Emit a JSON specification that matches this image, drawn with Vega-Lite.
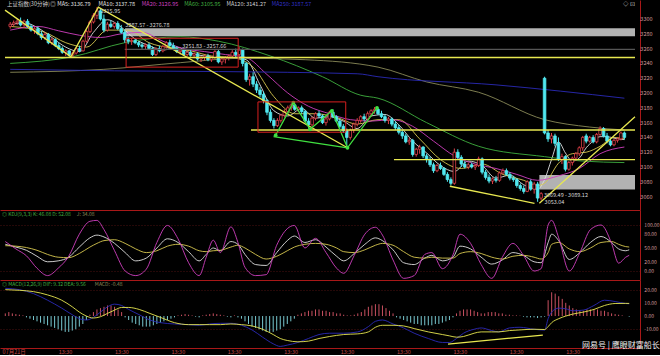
{
"$schema": "https://vega.github.io/schema/vega-lite/v6.json",
"background": "#000000",
"padding": 0,
"spacing": 0,
"bounds": "flush",
"config": {"view": {"stroke": null}, "font": "Noto Sans CJK SC", "axis": {"labelFont": "Noto Sans CJK SC", "labelFontSize": 5.5, "labelColor": "#d09a9a", "domainColor": "#a81818", "gridColor": "#4a1010", "gridDash": [1, 2], "labelFlush": false}},
"datasets": {
"bars": [
{"b":0,"o":3290,"h":3296,"l":3287,"c":3293,"m":2},{"b":1,"o":3293,"h":3298,"l":3290,"c":3295,"m":3},{"b":2,"o":3295,"h":3300,"l":3292,"c":3297,"m":2},{"b":3,"o":3297,"h":3302,"l":3290,"c":3292,"m":1.5},{"b":4,"o":3292,"h":3299,"l":3288,"c":3297,"m":1},{"b":5,"o":3297,"h":3300,"l":3288,"c":3290,"m":0.5},{"b":6,"o":3290,"h":3293,"l":3283,"c":3285,"m":-1},{"b":7,"o":3285,"h":3289,"l":3280,"c":3287,"m":-2},{"b":8,"o":3287,"h":3290,"l":3278,"c":3280,"m":-3},{"b":9,"o":3280,"h":3284,"l":3272,"c":3275,"m":-4},
{"b":10,"o":3275,"h":3282,"l":3272,"c":3279,"m":-5},{"b":11,"o":3279,"h":3281,"l":3266,"c":3268,"m":-6},{"b":12,"o":3268,"h":3275,"l":3265,"c":3272,"m":-7},{"b":13,"o":3272,"h":3274,"l":3262,"c":3264,"m":-8},{"b":14,"o":3264,"h":3268,"l":3258,"c":3260,"m":-9},{"b":15,"o":3260,"h":3263,"l":3253,"c":3255,"m":-10},{"b":16,"o":3255,"h":3259,"l":3250,"c":3257,"m":-11},{"b":17,"o":3257,"h":3258,"l":3249,"c":3251,"m":-12},{"b":18,"o":3251,"h":3256,"l":3248,"c":3254,"m":-12},{"b":19,"o":3254,"h":3262,"l":3252,"c":3260,"m":-11},
{"b":20,"o":3260,"h":3264,"l":3255,"c":3257,"m":-10},{"b":21,"o":3257,"h":3272,"l":3256,"c":3270,"m":-8},{"b":22,"o":3270,"h":3285,"l":3268,"c":3283,"m":-6},{"b":23,"o":3283,"h":3298,"l":3281,"c":3296,"m":-3},{"b":24,"o":3296,"h":3308,"l":3294,"c":3305,"m":1},{"b":25,"o":3305,"h":3316,"l":3300,"c":3311,"m":3},{"b":26,"o":3311,"h":3314,"l":3298,"c":3300,"m":5},{"b":27,"o":3300,"h":3306,"l":3282,"c":3285,"m":6},{"b":28,"o":3285,"h":3296,"l":3283,"c":3293,"m":7},{"b":29,"o":3293,"h":3298,"l":3288,"c":3290,"m":8},
{"b":30,"o":3290,"h":3296,"l":3287,"c":3294,"m":8},{"b":31,"o":3294,"h":3297,"l":3285,"c":3287,"m":7},{"b":32,"o":3287,"h":3292,"l":3280,"c":3282,"m":5},{"b":33,"o":3282,"h":3286,"l":3268,"c":3272,"m":3},{"b":34,"o":3272,"h":3276,"l":3266,"c":3270,"m":-1},{"b":35,"o":3270,"h":3274,"l":3265,"c":3271,"m":-3},{"b":36,"o":3271,"h":3274,"l":3266,"c":3268,"m":-5},{"b":37,"o":3268,"h":3270,"l":3262,"c":3265,"m":-6},{"b":38,"o":3265,"h":3268,"l":3260,"c":3263,"m":-7},{"b":39,"o":3263,"h":3267,"l":3259,"c":3265,"m":-8},
{"b":40,"o":3265,"h":3268,"l":3258,"c":3260,"m":-8},{"b":41,"o":3260,"h":3263,"l":3250,"c":3252,"m":-8},{"b":42,"o":3252,"h":3262,"l":3250,"c":3260,"m":-7},{"b":43,"o":3260,"h":3264,"l":3255,"c":3257,"m":-6},{"b":44,"o":3257,"h":3265,"l":3255,"c":3263,"m":-5},{"b":45,"o":3263,"h":3270,"l":3260,"c":3268,"m":-4},{"b":46,"o":3268,"h":3272,"l":3262,"c":3264,"m":-3},{"b":47,"o":3264,"h":3268,"l":3258,"c":3260,"m":-2},{"b":48,"o":3260,"h":3263,"l":3254,"c":3256,"m":-1},{"b":49,"o":3256,"h":3260,"l":3252,"c":3258,"m":0.5},
{"b":50,"o":3258,"h":3260,"l":3250,"c":3252,"m":1},{"b":51,"o":3252,"h":3257,"l":3249,"c":3255,"m":1.5},{"b":52,"o":3255,"h":3258,"l":3249,"c":3251,"m":1},{"b":53,"o":3251,"h":3255,"l":3247,"c":3253,"m":0.5},{"b":54,"o":3253,"h":3255,"l":3244,"c":3246,"m":-0.5},{"b":55,"o":3246,"h":3250,"l":3242,"c":3248,"m":-1},{"b":56,"o":3248,"h":3252,"l":3244,"c":3250,"m":0.5},{"b":57,"o":3250,"h":3253,"l":3243,"c":3245,"m":1},{"b":58,"o":3245,"h":3250,"l":3242,"c":3248,"m":1.5},{"b":59,"o":3248,"h":3258,"l":3246,"c":3256,"m":2},
{"b":60,"o":3256,"h":3259,"l":3240,"c":3242,"m":1.5},{"b":61,"o":3242,"h":3248,"l":3238,"c":3246,"m":1},{"b":62,"o":3246,"h":3250,"l":3240,"c":3248,"m":0.5},{"b":63,"o":3248,"h":3252,"l":3244,"c":3250,"m":-0.5},{"b":64,"o":3250,"h":3258,"l":3247,"c":3255,"m":-1},{"b":65,"o":3255,"h":3260,"l":3248,"c":3252,"m":0.5},{"b":66,"o":3252,"h":3262,"l":3250,"c":3258,"m":-1},{"b":67,"o":3258,"h":3260,"l":3236,"c":3240,"m":-2},{"b":68,"o":3240,"h":3242,"l":3215,"c":3218,"m":-4},{"b":69,"o":3218,"h":3226,"l":3210,"c":3222,"m":-6},
{"b":70,"o":3222,"h":3228,"l":3208,"c":3212,"m":-8},{"b":71,"o":3212,"h":3216,"l":3200,"c":3204,"m":-9},{"b":72,"o":3204,"h":3208,"l":3194,"c":3198,"m":-10},{"b":73,"o":3198,"h":3202,"l":3186,"c":3190,"m":-11},{"b":74,"o":3190,"h":3192,"l":3170,"c":3174,"m":-12},{"b":75,"o":3174,"h":3178,"l":3160,"c":3163,"m":-12},{"b":76,"o":3163,"h":3166,"l":3152,"c":3156,"m":-12},{"b":77,"o":3156,"h":3166,"l":3154,"c":3163,"m":-11},{"b":78,"o":3163,"h":3172,"l":3160,"c":3170,"m":-10},{"b":79,"o":3170,"h":3178,"l":3167,"c":3175,"m":-8},
{"b":80,"o":3175,"h":3183,"l":3172,"c":3180,"m":-6},{"b":81,"o":3180,"h":3186,"l":3176,"c":3184,"m":-4},{"b":82,"o":3184,"h":3186,"l":3176,"c":3178,"m":-2},{"b":83,"o":3178,"h":3182,"l":3174,"c":3180,"m":1},{"b":84,"o":3180,"h":3183,"l":3172,"c":3175,"m":2},{"b":85,"o":3175,"h":3177,"l":3160,"c":3162,"m":3},{"b":86,"o":3162,"h":3166,"l":3152,"c":3157,"m":4},{"b":87,"o":3157,"h":3168,"l":3155,"c":3166,"m":4},{"b":88,"o":3166,"h":3174,"l":3163,"c":3172,"m":5},{"b":89,"o":3172,"h":3176,"l":3166,"c":3169,"m":5},
{"b":90,"o":3169,"h":3171,"l":3158,"c":3160,"m":4},{"b":91,"o":3160,"h":3168,"l":3156,"c":3165,"m":4},{"b":92,"o":3165,"h":3176,"l":3163,"c":3174,"m":3},{"b":93,"o":3174,"h":3178,"l":3166,"c":3168,"m":3},{"b":94,"o":3168,"h":3170,"l":3160,"c":3162,"m":2},{"b":95,"o":3162,"h":3165,"l":3152,"c":3155,"m":2},{"b":96,"o":3155,"h":3158,"l":3146,"c":3149,"m":1},{"b":97,"o":3149,"h":3152,"l":3126,"c":3140,"m":0.5},{"b":98,"o":3140,"h":3152,"l":3137,"c":3150,"m":0.5},{"b":99,"o":3150,"h":3160,"l":3146,"c":3158,"m":1},
{"b":100,"o":3158,"h":3166,"l":3155,"c":3163,"m":2},{"b":101,"o":3163,"h":3170,"l":3160,"c":3168,"m":3},{"b":102,"o":3168,"h":3172,"l":3162,"c":3165,"m":5},{"b":103,"o":3165,"h":3175,"l":3163,"c":3172,"m":7},{"b":104,"o":3172,"h":3178,"l":3168,"c":3176,"m":8},{"b":105,"o":3176,"h":3181,"l":3172,"c":3178,"m":9},{"b":106,"o":3178,"h":3180,"l":3170,"c":3172,"m":9},{"b":107,"o":3172,"h":3176,"l":3166,"c":3168,"m":8},{"b":108,"o":3168,"h":3171,"l":3160,"c":3163,"m":6},{"b":109,"o":3163,"h":3168,"l":3158,"c":3165,"m":4},
{"b":110,"o":3165,"h":3167,"l":3155,"c":3158,"m":2},{"b":111,"o":3158,"h":3162,"l":3150,"c":3153,"m":-1},{"b":112,"o":3153,"h":3157,"l":3144,"c":3147,"m":-2},{"b":113,"o":3147,"h":3150,"l":3138,"c":3142,"m":-3},{"b":114,"o":3142,"h":3145,"l":3132,"c":3134,"m":-4},{"b":115,"o":3134,"h":3140,"l":3130,"c":3136,"m":-5},{"b":116,"o":3136,"h":3138,"l":3114,"c":3117,"m":-6},{"b":117,"o":3117,"h":3126,"l":3114,"c":3124,"m":-6},{"b":118,"o":3124,"h":3130,"l":3118,"c":3127,"m":-7},{"b":119,"o":3127,"h":3128,"l":3112,"c":3115,"m":-7},
{"b":120,"o":3115,"h":3118,"l":3106,"c":3110,"m":-7},{"b":121,"o":3110,"h":3114,"l":3100,"c":3103,"m":-7},{"b":122,"o":3103,"h":3106,"l":3092,"c":3095,"m":-6},{"b":123,"o":3095,"h":3104,"l":3093,"c":3102,"m":-6},{"b":124,"o":3102,"h":3106,"l":3096,"c":3098,"m":-5},{"b":125,"o":3098,"h":3100,"l":3088,"c":3090,"m":-4},{"b":126,"o":3090,"h":3093,"l":3080,"c":3083,"m":-3},{"b":127,"o":3083,"h":3086,"l":3075,"c":3078,"m":-1},{"b":128,"o":3078,"h":3125,"l":3076,"c":3120,"m":2},{"b":129,"o":3120,"h":3124,"l":3110,"c":3113,"m":4},
{"b":130,"o":3113,"h":3116,"l":3100,"c":3104,"m":5},{"b":131,"o":3104,"h":3108,"l":3098,"c":3100,"m":5},{"b":132,"o":3100,"h":3106,"l":3097,"c":3103,"m":5},{"b":133,"o":3103,"h":3106,"l":3098,"c":3100,"m":4},{"b":134,"o":3100,"h":3104,"l":3096,"c":3102,"m":3},{"b":135,"o":3102,"h":3114,"l":3100,"c":3111,"m":2},{"b":136,"o":3111,"h":3113,"l":3090,"c":3093,"m":2},{"b":137,"o":3093,"h":3096,"l":3083,"c":3086,"m":3},{"b":138,"o":3086,"h":3090,"l":3078,"c":3081,"m":3},{"b":139,"o":3081,"h":3086,"l":3077,"c":3084,"m":3},
{"b":140,"o":3084,"h":3088,"l":3079,"c":3082,"m":2},{"b":141,"o":3082,"h":3094,"l":3080,"c":3092,"m":2},{"b":142,"o":3092,"h":3098,"l":3090,"c":3095,"m":1},{"b":143,"o":3095,"h":3098,"l":3088,"c":3090,"m":1},{"b":144,"o":3090,"h":3093,"l":3082,"c":3085,"m":0.5},{"b":145,"o":3085,"h":3088,"l":3080,"c":3083,"m":0.5},{"b":146,"o":3083,"h":3085,"l":3072,"c":3075,"m":0.3},{"b":147,"o":3075,"h":3078,"l":3068,"c":3071,"m":-0.5},{"b":148,"o":3071,"h":3075,"l":3064,"c":3067,"m":-1},{"b":149,"o":3067,"h":3082,"l":3066,"c":3080,"m":-1},
{"b":150,"o":3080,"h":3083,"l":3068,"c":3070,"m":-1},{"b":151,"o":3070,"h":3080,"l":3064,"c":3077,"m":-1.5},{"b":152,"o":3077,"h":3080,"l":3053,"c":3058,"m":-1},{"b":153,"o":3058,"h":3066,"l":3055,"c":3064,"m":-0.5},{"b":154,"o":3220,"h":3222,"l":3144,"c":3146,"m":12},{"b":155,"o":3146,"h":3150,"l":3134,"c":3138,"m":18},{"b":156,"o":3138,"h":3146,"l":3132,"c":3142,"m":17},{"b":157,"o":3142,"h":3145,"l":3128,"c":3132,"m":15},{"b":158,"o":3132,"h":3140,"l":3108,"c":3110,"m":13},{"b":159,"o":3110,"h":3118,"l":3104,"c":3114,"m":10},
{"b":160,"o":3114,"h":3116,"l":3094,"c":3097,"m":8},{"b":161,"o":3097,"h":3108,"l":3095,"c":3106,"m":6},{"b":162,"o":3106,"h":3114,"l":3102,"c":3112,"m":5},{"b":163,"o":3112,"h":3120,"l":3108,"c":3118,"m":4},{"b":164,"o":3118,"h":3128,"l":3115,"c":3126,"m":4},{"b":165,"o":3126,"h":3142,"l":3122,"c":3140,"m":5},{"b":166,"o":3142,"h":3145,"l":3132,"c":3135,"m":5},{"b":167,"o":3135,"h":3142,"l":3133,"c":3140,"m":5},{"b":168,"o":3140,"h":3143,"l":3132,"c":3134,"m":5},{"b":169,"o":3134,"h":3146,"l":3132,"c":3144,"m":4},
{"b":170,"o":3144,"h":3155,"l":3142,"c":3152,"m":4},{"b":171,"o":3152,"h":3154,"l":3140,"c":3142,"m":3},{"b":172,"o":3142,"h":3146,"l":3132,"c":3135,"m":2},{"b":173,"o":3135,"h":3138,"l":3128,"c":3130,"m":1.5},{"b":174,"o":3130,"h":3138,"l":3128,"c":3136,"m":1},{"b":175,"o":3136,"h":3140,"l":3133,"c":3138,"m":0.5},{"b":176,"o":3138,"h":3148,"l":3136,"c":3146,"m":0},{"b":177,"o":3146,"h":3148,"l":3137,"c":3140,"m":-0.48}
],
"ma": [
{"s":"MA5","b":0,"v":3292},{"s":"MA5","b":4,"v":3295},{"s":"MA5","b":8,"v":3288},{"s":"MA5","b":12,"v":3275},{"s":"MA5","b":16,"v":3262},{"s":"MA5","b":20,"v":3256},{"s":"MA5","b":24,"v":3282},{"s":"MA5","b":28,"v":3299},{"s":"MA5","b":32,"v":3289},{"s":"MA5","b":36,"v":3273},{"s":"MA5","b":40,"v":3264},{"s":"MA5","b":44,"v":3258},{"s":"MA5","b":48,"v":3262},{"s":"MA5","b":52,"v":3254},{"s":"MA5","b":56,"v":3250},{"s":"MA5","b":60,"v":3248},{"s":"MA5","b":64,"v":3248},{"s":"MA5","b":68,"v":3245},{"s":"MA5","b":72,"v":3211},{"s":"MA5","b":76,"v":3176},{"s":"MA5","b":80,"v":3169},{"s":"MA5","b":84,"v":3179},{"s":"MA5","b":88,"v":3166},{"s":"MA5","b":92,"v":3168},{"s":"MA5","b":96,"v":3162},{"s":"MA5","b":100,"v":3152},{"s":"MA5","b":104,"v":3169},{"s":"MA5","b":108,"v":3171},{"s":"MA5","b":112,"v":3157},{"s":"MA5","b":116,"v":3135},{"s":"MA5","b":120,"v":3119},{"s":"MA5","b":124,"v":3102},{"s":"MA5","b":128,"v":3094},{"s":"MA5","b":132,"v":3108},{"s":"MA5","b":136,"v":3102},{"s":"MA5","b":140,"v":3085},{"s":"MA5","b":144,"v":3089},{"s":"MA5","b":148,"v":3076},{"s":"MA5","b":152,"v":3070},{"s":"MA5","b":154,"v":3083},{"s":"MA5","b":156,"v":3110},{"s":"MA5","b":158,"v":3134},{"s":"MA5","b":160,"v":3119},{"s":"MA5","b":162,"v":3108},{"s":"MA5","b":164,"v":3112},{"s":"MA5","b":166,"v":3126},{"s":"MA5","b":168,"v":3135},{"s":"MA5","b":170,"v":3141},{"s":"MA5","b":172,"v":3141},{"s":"MA5","b":174,"v":3139},{"s":"MA5","b":177,"v":3137},
{"s":"MA10","b":0,"v":3290},{"s":"MA10","b":10,"v":3282},{"s":"MA10","b":16,"v":3268},{"s":"MA10","b":22,"v":3262},{"s":"MA10","b":28,"v":3285},{"s":"MA10","b":34,"v":3285},{"s":"MA10","b":40,"v":3268},{"s":"MA10","b":46,"v":3261},{"s":"MA10","b":52,"v":3257},{"s":"MA10","b":58,"v":3250},{"s":"MA10","b":64,"v":3248},{"s":"MA10","b":70,"v":3235},{"s":"MA10","b":76,"v":3195},{"s":"MA10","b":82,"v":3172},{"s":"MA10","b":88,"v":3172},{"s":"MA10","b":94,"v":3167},{"s":"MA10","b":100,"v":3158},{"s":"MA10","b":106,"v":3164},{"s":"MA10","b":112,"v":3164},{"s":"MA10","b":118,"v":3138},{"s":"MA10","b":124,"v":3110},{"s":"MA10","b":130,"v":3098},{"s":"MA10","b":136,"v":3104},{"s":"MA10","b":142,"v":3090},{"s":"MA10","b":148,"v":3082},{"s":"MA10","b":152,"v":3075},{"s":"MA10","b":154,"v":3078},{"s":"MA10","b":158,"v":3105},{"s":"MA10","b":162,"v":3118},{"s":"MA10","b":166,"v":3120},{"s":"MA10","b":170,"v":3128},{"s":"MA10","b":174,"v":3140},{"s":"MA10","b":177,"v":3138},
{"s":"MA20","b":0,"v":3285},{"s":"MA20","b":8,"v":3290},{"s":"MA20","b":14,"v":3284},{"s":"MA20","b":20,"v":3278},{"s":"MA20","b":26,"v":3275},{"s":"MA20","b":32,"v":3280},{"s":"MA20","b":38,"v":3282},{"s":"MA20","b":44,"v":3270},{"s":"MA20","b":50,"v":3260},{"s":"MA20","b":56,"v":3256},{"s":"MA20","b":62,"v":3252},{"s":"MA20","b":68,"v":3248},{"s":"MA20","b":74,"v":3225},{"s":"MA20","b":80,"v":3200},{"s":"MA20","b":86,"v":3182},{"s":"MA20","b":92,"v":3172},{"s":"MA20","b":98,"v":3164},{"s":"MA20","b":104,"v":3162},{"s":"MA20","b":110,"v":3164},{"s":"MA20","b":116,"v":3155},{"s":"MA20","b":122,"v":3135},{"s":"MA20","b":128,"v":3115},{"s":"MA20","b":134,"v":3104},{"s":"MA20","b":140,"v":3098},{"s":"MA20","b":146,"v":3090},{"s":"MA20","b":152,"v":3082},{"s":"MA20","b":158,"v":3088},{"s":"MA20","b":164,"v":3098},{"s":"MA20","b":170,"v":3118},{"s":"MA20","b":177,"v":3127},
{"s":"MA60","b":0,"v":3240},{"s":"MA60","b":18,"v":3249},{"s":"MA60","b":33,"v":3268},{"s":"MA60","b":49,"v":3276},{"s":"MA60","b":60,"v":3270},{"s":"MA60","b":75,"v":3250},{"s":"MA60","b":90,"v":3222},{"s":"MA60","b":101,"v":3197},{"s":"MA60","b":106,"v":3193},{"s":"MA60","b":120,"v":3160},{"s":"MA60","b":135,"v":3128},{"s":"MA60","b":154,"v":3114},{"s":"MA60","b":165,"v":3108},{"s":"MA60","b":177,"v":3106},
{"s":"MA120","b":0,"v":3228},{"s":"MA120","b":27,"v":3232},{"s":"MA120","b":49,"v":3241},{"s":"MA120","b":67,"v":3247},{"s":"MA120","b":85,"v":3245},{"s":"MA120","b":106,"v":3235},{"s":"MA120","b":120,"v":3215},{"s":"MA120","b":135,"v":3201},{"s":"MA120","b":154,"v":3164},{"s":"MA120","b":167,"v":3154},{"s":"MA120","b":177,"v":3150},
{"s":"MA250","b":0,"v":3232},{"s":"MA250","b":30,"v":3230},{"s":"MA250","b":60,"v":3229},{"s":"MA250","b":100,"v":3226},{"s":"MA250","b":106,"v":3222},{"s":"MA250","b":140,"v":3211},{"s":"MA250","b":177,"v":3193}
],
"ann": [
{"g":"y1","t":"yellow","b":-1.5,"v":3312},{"g":"y1","t":"yellow","b":17.5,"v":3249},{"g":"y1","t":"yellow","b":25.4,"v":3316},{"g":"y1","t":"yellow","b":97.2,"v":3126},
{"g":"h1","t":"yellow","b":-1.5,"v":3248},{"g":"h1","t":"yellow","b":180.06,"v":3248},
{"g":"h2","t":"yellow","b":69.4,"v":3150},{"g":"h2","t":"yellow","b":180.06,"v":3150},
{"g":"h3","t":"yellow","b":110.6,"v":3110},{"g":"h3","t":"yellow","b":180.06,"v":3110},
{"g":"y2","t":"yellow","b":126.7,"v":3074},{"g":"y2","t":"yellow","b":151.1,"v":3051},
{"g":"y3","t":"yellow","b":152.5,"v":3051},{"g":"y3","t":"yellow","b":180.06,"v":3168},
{"g":"gl","t":"gray","b":33,"v":3259},{"g":"gl","t":"gray","b":180.06,"v":3259},
{"g":"g1","t":"green","b":76.5,"v":3143},{"g":"g1","t":"green","b":81.6,"v":3187},{"g":"g1","t":"green","b":86.4,"v":3151},{"g":"g1","t":"green","b":92.7,"v":3176},{"g":"g1","t":"green","b":97.2,"v":3126},{"g":"g1","t":"green","b":105.7,"v":3180},
{"g":"g2","t":"green","b":75.9,"v":3141},{"g":"g2","t":"green","b":97.2,"v":3126}
],
"rects": [
{"t":"gray","b1":33.1,"b2":180.06,"p1":3276.78,"p2":3287.57},
{"t":"gray","b1":152.5,"b2":180.06,"p1":3069.49,"p2":3089.12},
{"t":"red","b1":33.4,"b2":65.7,"p1":3235,"p2":3274},
{"t":"red","b1":71.4,"b2":96.7,"p1":3147,"p2":3188}
],
"labels": [
{"txt":"3315.95","b":26,"v":3311.5},
{"txt":"3287.57 - 3276.78","b":33.2,"v":3292},
{"txt":"3251.83 - 3257.66","b":49.6,"v":3264},
{"txt":"3069.49 - 3089.12","b":153.8,"v":3062},
{"txt":"3053.04","b":154,"v":3053}
],
"head": [
{"s":"hT","txt":"上证指数(30分钟)","b":-0.93,"v":3320.5},
{"s":"hT","txt":"◎","b":11.55,"v":3320.5},
{"s":"h5","txt":"MA5: 3136.79","b":13.54,"v":3320.5},
{"s":"h10","txt":"MA10: 3137.78","b":25.45,"v":3320.5},
{"s":"h20","txt":"MA20: 3126.95","b":37.93,"v":3320.5},
{"s":"h60","txt":"MA60: 3105.95","b":50.13,"v":3320.5},
{"s":"h120","txt":"MA120: 3141.27","b":62.33,"v":3320.5},
{"s":"h250","txt":"MA250: 3187.57","b":75.38,"v":3320.5},
{"s":"hT","txt":"◇ ⊡","b":176.6,"v":3320.5}
],
"ylab_main": [{"v":3060,"txt":"3060"},{"v":3080,"txt":"3080"},{"v":3100,"txt":"3100"},{"v":3120,"txt":"3120"},{"v":3140,"txt":"3140"},{"v":3160,"txt":"3160"},{"v":3180,"txt":"3180"},{"v":3200,"txt":"3200"},{"v":3220,"txt":"3220"},{"v":3240,"txt":"3240"},{"v":3260,"txt":"3260"},{"v":3280,"txt":"3280"},{"v":3300,"txt":"3300"}],
"ylab_kdj": [{"v":0,"txt":"0.00"},{"v":20,"txt":"20.00"},{"v":50,"txt":"50.00"},{"v":80,"txt":"80.00"},{"v":100,"txt":"100.00"}],
"ylab_macd": [{"v":-10,"txt":"-10.00"},{"v":0,"txt":"0.00"},{"v":10,"txt":"10.00"},{"v":20,"txt":"20.00"}],
"kdj": [
{"b":0,"k":58,"d":55,"j":64},{"b":3,"k":52,"d":54,"j":48},{"b":6,"k":45,"d":51,"j":33},{"b":9,"k":32,"d":45,"j":6},{"b":12,"k":20,"d":36,"j":-10},{"b":15,"k":22,"d":30,"j":6},{"b":18,"k":30,"d":29,"j":32},{"b":21,"k":52,"d":38,"j":80},{"b":24,"k":72,"d":52,"j":108},{"b":26,"k":78,"d":60,"j":110},{"b":28,"k":74,"d":66,"j":90},{"b":31,"k":60,"d":68,"j":44},{"b":34,"k":40,"d":60,"j":0},{"b":37,"k":22,"d":48,"j":-10},{"b":40,"k":28,"d":40,"j":4},{"b":43,"k":50,"d":44,"j":62},{"b":46,"k":70,"d":54,"j":99},{"b":49,"k":62,"d":58,"j":70},{"b":52,"k":42,"d":54,"j":18},{"b":55,"k":22,"d":44,"j":-10},{"b":57,"k":36,"d":42,"j":30},{"b":59,"k":50,"d":44,"j":67},{"b":61,"k":44,"d":45,"j":40},{"b":64,"k":64,"d":52,"j":96},{"b":66,"k":58,"d":56,"j":62},{"b":68,"k":36,"d":50,"j":8},{"b":71,"k":14,"d":36,"j":-10},{"b":74,"k":12,"d":26,"j":-8},{"b":77,"k":40,"d":32,"j":56},{"b":80,"k":66,"d":44,"j":92},{"b":82,"k":76,"d":52,"j":99},{"b":85,"k":62,"d":58,"j":50},{"b":88,"k":68,"d":60,"j":71},{"b":91,"k":52,"d":58,"j":40},{"b":94,"k":32,"d":50,"j":6},{"b":96,"k":22,"d":42,"j":-5},{"b":99,"k":38,"d":40,"j":34},{"b":102,"k":58,"d":46,"j":80},{"b":105,"k":72,"d":56,"j":95},{"b":107,"k":66,"d":60,"j":78},{"b":110,"k":46,"d":56,"j":24},{"b":113,"k":18,"d":42,"j":-16},{"b":116,"k":14,"d":30,"j":-10},{"b":119,"k":28,"d":28,"j":36},{"b":121,"k":34,"d":30,"j":40},{"b":124,"k":22,"d":28,"j":5},{"b":127,"k":30,"d":28,"j":35},{"b":129,"k":54,"d":38,"j":80},{"b":132,"k":48,"d":42,"j":60},{"b":135,"k":30,"d":38,"j":14},{"b":138,"k":15,"d":30,"j":-16},{"b":141,"k":24,"d":26,"j":30},{"b":144,"k":40,"d":32,"j":60},{"b":147,"k":34,"d":34,"j":34},{"b":150,"k":20,"d":30,"j":0},{"b":152,"k":18,"d":26,"j":5},{"b":154,"k":62,"d":40,"j":100},{"b":155,"k":80,"d":58,"j":110},{"b":157,"k":66,"d":62,"j":72},{"b":160,"k":25,"d":48,"j":0},{"b":163,"k":40,"d":42,"j":40},{"b":166,"k":62,"d":50,"j":90},{"b":169,"k":75,"d":62,"j":100},{"b":172,"k":62,"d":64,"j":60},{"b":174,"k":48,"d":58,"j":17},{"b":176,"k":44,"d":53,"j":30},{"b":177,"k":46.08,"d":52.08,"j":34.08}
],
"kdjhead": [
{"s":"ht","txt":"◎ KDJ(9,3,3) K: 46.08 D: 52.08","b":-0.9,"v":124},
{"s":"hj","txt":"J: 34.08","b":20.3,"v":124}
],
"macd": [
{"b":0,"dif":21,"dea":20},{"b":4,"dif":20,"dea":19.5},{"b":8,"dif":17,"dea":18.5},{"b":12,"dif":12,"dea":16},{"b":16,"dif":6,"dea":12},{"b":19,"dif":1,"dea":7},{"b":21,"dif":-2,"dea":3},{"b":23,"dif":-3,"dea":0},{"b":25,"dif":-1,"dea":-1.5},{"b":27,"dif":3,"dea":-0.5},{"b":29,"dif":7,"dea":2},{"b":31,"dif":9,"dea":4.5},{"b":33,"dif":8,"dea":6.5},{"b":35,"dif":5,"dea":6.5},{"b":38,"dif":1,"dea":5},{"b":41,"dif":-3,"dea":2},{"b":44,"dif":-5,"dea":-1},{"b":48,"dif":-6,"dea":-5},{"b":52,"dif":-6.5,"dea":-6.5},{"b":55,"dif":-7,"dea":-6.5},{"b":58,"dif":-6,"dea":-6.5},{"b":61,"dif":-5.5,"dea":-6.5},{"b":64,"dif":-5.5,"dea":-6},{"b":67,"dif":-7,"dea":-6.5},{"b":70,"dif":-10.5,"dea":-7.5},{"b":73,"dif":-16,"dea":-10},{"b":76,"dif":-21,"dea":-14},{"b":78,"dif":-23,"dea":-17},{"b":80,"dif":-22,"dea":-18.5},{"b":83,"dif":-20,"dea":-19.5},{"b":86,"dif":-17,"dea":-19},{"b":89,"dif":-14,"dea":-17},{"b":92,"dif":-13,"dea":-15.5},{"b":96,"dif":-13,"dea":-14},{"b":100,"dif":-12,"dea":-13.5},{"b":103,"dif":-8,"dea":-12},{"b":105,"dif":-4,"dea":-8.5},{"b":107,"dif":-3,"dea":-7},{"b":110,"dif":-6,"dea":-7},{"b":113,"dif":-9,"dea":-7.5},{"b":116,"dif":-13,"dea":-9.5},{"b":120,"dif":-17,"dea":-12},{"b":124,"dif":-20,"dea":-14},{"b":126,"dif":-20,"dea":-15},{"b":128,"dif":-17,"dea":-16},{"b":130,"dif":-13,"dea":-15.5},{"b":133,"dif":-10,"dea":-13},{"b":135,"dif":-9,"dea":-12},{"b":138,"dif":-11,"dea":-12},{"b":140,"dif":-12,"dea":-12},{"b":143,"dif":-9,"dea":-11},{"b":146,"dif":-8.5,"dea":-10.5},{"b":150,"dif":-10,"dea":-10},{"b":153,"dif":-10.6,"dea":-10.2},{"b":154,"dif":-2,"dea":-8},{"b":155,"dif":3,"dea":-5},{"b":157,"dif":6,"dea":-2},{"b":159,"dif":5.5,"dea":0},{"b":161,"dif":4,"dea":1.5},{"b":164,"dif":4.5,"dea":3},{"b":167,"dif":8,"dea":5},{"b":170,"dif":12,"dea":8},{"b":173,"dif":11,"dea":9.5},{"b":176,"dif":9.5,"dea":9.6},{"b":177,"dif":9.32,"dea":9.56}
],
"divline": [{"b":125.6,"v":-21.2},{"b":152.5,"v":-14.4}],
"macdhead": [
{"s":"ht","txt":"◎ MACD(12,26,9) DIF: 9.32 DEA: 9.56","b":-0.9,"v":24},
{"s":"hj","txt":"MACD: -0.48","b":25.4,"v":24}
],
"wm": [{"txt":"网易号 | 鹰眼财富船长","b":163.6,"v":-22.5}]
},
"vconcat": [
{
"width": 640, "height": 210,
"layer": [
{"data": {"name": "rects"}, "transform": [{"filter": "datum.t == 'gray'"}], "mark": {"type": "rect", "color": "#b2b2b2", "clip": true},
 "encoding": {"x": {"field": "b1", "type": "quantitative", "scale": {"domain": [-1.5, 180.06], "nice": false, "zero": false}, "axis": {"orient": "bottom", "labels": false, "ticks": false, "grid": false, "domain": true, "title": null}},
  "x2": {"field": "b2"},
  "y": {"field": "p1", "type": "quantitative", "scale": {"domain": [3041.9, 3325.7], "nice": false, "zero": false}, "axis": {"orient": "right", "labels": false, "ticks": false, "grid": false, "domain": true, "title": null}},
  "y2": {"field": "p2"}}},
{"data": {"name": "ma"}, "mark": {"type": "line", "strokeWidth": 0.9, "interpolate": "monotone", "clip": true},
 "encoding": {"x": {"field": "b", "type": "quantitative"}, "y": {"field": "v", "type": "quantitative"},
  "detail": {"field": "s", "type": "nominal"},
  "color": {"field": "s", "type": "nominal", "legend": null, "scale": {"domain": ["MA5","MA10","MA20","MA60","MA120","MA250","yellow","green","gray","hT","h5","h10","h20","h60","h120","h250"], "range": ["#e0e0e0","#d8c850","#d040c0","#40b040","#8a8a58","#2a2ab8","#e8e850","#40e040","#555555","#d0d0d0","#e0e0e0","#e0e0e0","#d040c0","#40b040","#d0d0d0","#3030c8"]}}}},
{"data": {"name": "bars"}, "mark": {"type": "rule", "strokeWidth": 1, "clip": true},
 "encoding": {"x": {"field": "b", "type": "quantitative"}, "y": {"field": "l", "type": "quantitative"}, "y2": {"field": "h"},
  "stroke": {"condition": {"test": "datum.c >= datum.o", "value": "#e0404a"}, "value": "#50e8f0"}}},
{"data": {"name": "bars"}, "mark": {"type": "bar", "size": 2.6, "strokeWidth": 0.8, "clip": true},
 "encoding": {"x": {"field": "b", "type": "quantitative"}, "y": {"field": "o", "type": "quantitative"}, "y2": {"field": "c"},
  "fill": {"condition": {"test": "datum.c >= datum.o", "value": "#000000"}, "value": "#50e8f0"},
  "stroke": {"condition": {"test": "datum.c >= datum.o", "value": "#e0404a"}, "value": "#50e8f0"}}},
{"data": {"name": "ann"}, "mark": {"type": "line", "strokeWidth": 1.3, "clip": true},
 "encoding": {"x": {"field": "b", "type": "quantitative"}, "y": {"field": "v", "type": "quantitative"},
  "detail": {"field": "g", "type": "nominal"},
  "color": {"field": "t", "type": "nominal", "legend": null}}},
{"data": {"name": "ann"}, "transform": [{"filter": "datum.g == 'g1'"}], "mark": {"type": "circle", "size": 14, "color": "#40e040", "opacity": 1, "clip": true},
 "encoding": {"x": {"field": "b", "type": "quantitative"}, "y": {"field": "v", "type": "quantitative"}}},
{"data": {"name": "rects"}, "transform": [{"filter": "datum.t == 'red'"}], "mark": {"type": "rect", "filled": false, "stroke": "#d82020", "strokeWidth": 1, "clip": true},
 "encoding": {"x": {"field": "b1", "type": "quantitative"}, "x2": {"field": "b2"}, "y": {"field": "p1", "type": "quantitative"}, "y2": {"field": "p2"}}},
{"data": {"name": "labels"}, "mark": {"type": "text", "align": "left", "baseline": "middle", "fontSize": 5.5, "color": "#d8d8d8"},
 "encoding": {"x": {"field": "b", "type": "quantitative"}, "y": {"field": "v", "type": "quantitative"}, "text": {"field": "txt", "type": "nominal"}}},
{"data": {"name": "head"}, "mark": {"type": "text", "align": "left", "baseline": "middle", "fontSize": 5.5},
 "encoding": {"x": {"field": "b", "type": "quantitative"}, "y": {"field": "v", "type": "quantitative"}, "text": {"field": "txt", "type": "nominal"},
  "color": {"field": "s", "type": "nominal", "legend": null}}},
{"data": {"name": "ylab_main"}, "mark": {"type": "text", "align": "left", "baseline": "middle", "fontSize": 5.5, "color": "#d09a9a"},
 "encoding": {"x": {"datum": 181.6, "type": "quantitative"}, "y": {"field": "v", "type": "quantitative"}, "text": {"field": "txt", "type": "nominal"}}}
]
},
{
"width": 640, "height": 70,
"layer": [
{"data": {"name": "kdj"}, "transform": [{"fold": ["k","d","j"], "as": ["s","v"]}], "mark": {"type": "line", "strokeWidth": 0.9, "interpolate": "monotone", "clip": true},
 "encoding": {"x": {"field": "b", "type": "quantitative", "scale": {"domain": [-1.5, 180.06], "nice": false, "zero": false}, "axis": {"orient": "bottom", "labels": false, "ticks": false, "grid": false, "domain": true, "title": null}},
  "y": {"field": "v", "type": "quantitative", "scale": {"domain": [-19.6, 132.6], "nice": false, "zero": false}, "axis": {"orient": "right", "values": [0,20,50,80,100], "labels": false, "ticks": false, "grid": true, "title": null}},
  "color": {"field": "s", "type": "nominal", "legend": null, "scale": {"domain": ["k","d","j","ht","hj"], "range": ["#e6e6e6","#d8c860","#b040c0","#d0d0d0","#c040d0"]}}}},
{"data": {"name": "kdjhead"}, "mark": {"type": "text", "align": "left", "baseline": "middle", "fontSize": 5},
 "encoding": {"x": {"field": "b", "type": "quantitative"}, "y": {"field": "v", "type": "quantitative"}, "text": {"field": "txt", "type": "nominal"},
  "color": {"field": "s", "type": "nominal", "legend": null}}},
{"data": {"name": "ylab_kdj"}, "mark": {"type": "text", "align": "left", "baseline": "middle", "fontSize": 5, "color": "#d09a9a"},
 "encoding": {"x": {"datum": 181.3, "type": "quantitative"}, "y": {"field": "v", "type": "quantitative"}, "text": {"field": "txt", "type": "nominal"}}}
]
},
{
"width": 640, "height": 68,
"layer": [
{"data": {"name": "bars"}, "mark": {"type": "rule", "strokeWidth": 1, "clip": true},
 "encoding": {"x": {"field": "b", "type": "quantitative", "scale": {"domain": [-1.5, 180.06], "nice": false, "zero": false}, "axis": {"orient": "bottom", "values": [-0.9,7,15,23,31,39,47,55,63,71,79,87,95,103,111,119,127,135,143,151,159], "labelExpr": "datum.value < 3 ? '07月21日' : '13:30'", "labelAlign": "left", "labelFontSize": 5.5, "labelColor": "#c04848", "labelPadding": 1, "labelOverlap": false, "ticks": false, "grid": false, "domain": true, "title": null}},
  "y": {"field": "m", "type": "quantitative", "scale": {"domain": [-24.2, 27.3], "nice": false, "zero": false}, "axis": {"orient": "right", "values": [-10,0,10,20], "labels": false, "ticks": false, "grid": true, "title": null}},
  "y2": {"datum": 0},
  "stroke": {"condition": {"test": "datum.m >= 0", "value": "#c85060"}, "value": "#78c8d0"}}},
{"data": {"name": "macd"}, "transform": [{"fold": ["dif","dea"], "as": ["s","v"]}], "mark": {"type": "line", "strokeWidth": 0.9, "interpolate": "monotone", "clip": true},
 "encoding": {"x": {"field": "b", "type": "quantitative"}, "y": {"field": "v", "type": "quantitative"},
  "color": {"field": "s", "type": "nominal", "legend": null, "scale": {"domain": ["dif","dea","ht","hj"], "range": ["#e6e6e6","#d8d070","#d0d0d0","#c040d0"]}}}},
{"data": {"name": "divline"}, "mark": {"type": "line", "strokeWidth": 1.3, "color": "#e8e850", "clip": true},
 "encoding": {"x": {"field": "b", "type": "quantitative"}, "y": {"field": "v", "type": "quantitative"}}},
{"data": {"name": "macdhead"}, "mark": {"type": "text", "align": "left", "baseline": "middle", "fontSize": 5},
 "encoding": {"x": {"field": "b", "type": "quantitative"}, "y": {"field": "v", "type": "quantitative"}, "text": {"field": "txt", "type": "nominal"},
  "color": {"field": "s", "type": "nominal", "legend": null}}},
{"data": {"name": "ylab_macd"}, "mark": {"type": "text", "align": "left", "baseline": "middle", "fontSize": 5, "color": "#d09a9a"},
 "encoding": {"x": {"datum": 181.3, "type": "quantitative"}, "y": {"field": "v", "type": "quantitative"}, "text": {"field": "txt", "type": "nominal"}}},
{"data": {"name": "wm"}, "mark": {"type": "text", "align": "left", "baseline": "middle", "fontSize": 8, "color": "#f0f0f0"},
 "encoding": {"x": {"field": "b", "type": "quantitative"}, "y": {"field": "v", "type": "quantitative"}, "text": {"field": "txt", "type": "nominal"}}}
]
}
]
}
